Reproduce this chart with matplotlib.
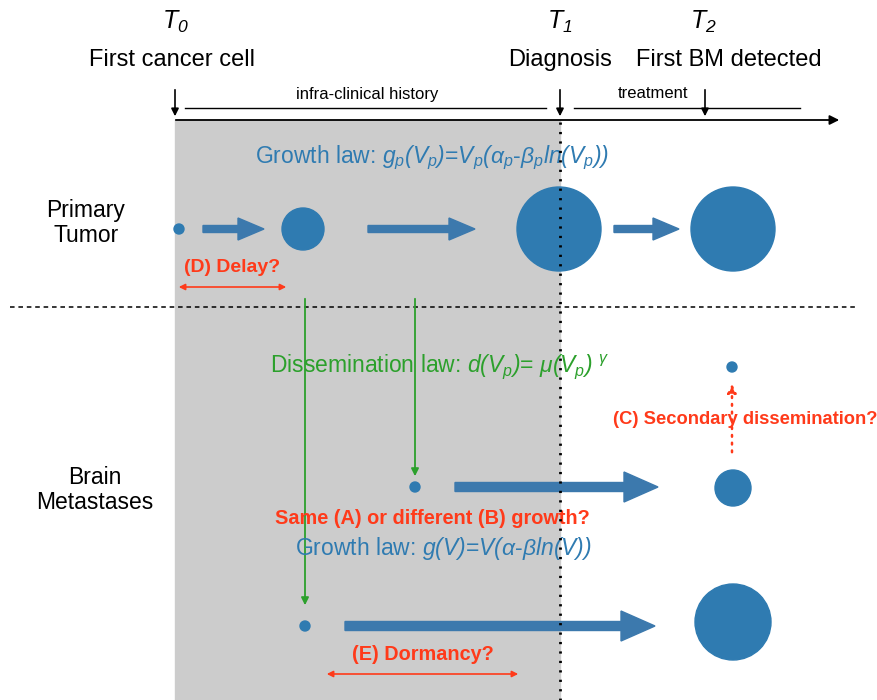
import matplotlib.pyplot as plt
from matplotlib.patches import Circle, Rectangle

plt.rcParams['font.family'] = ['Liberation Sans', 'DejaVu Sans']
plt.rcParams['mathtext.fontset'] = 'custom'
plt.rcParams['mathtext.rm'] = 'Liberation Sans:italic'
plt.rcParams['mathtext.it'] = 'Liberation Sans:italic'

# time points (pixel positions along the timeline)
time_labels = ['$T_0$', '$T_1$', '$T_2$']
time_names = ['First cancer cell', 'Diagnosis', 'First BM detected']
time_x = [175, 560, 705]

# tumors: (x, y, radius)
primary_x = [179, 303, 559, 733]
primary_r = [5, 21, 42, 42]
primary_y = 229
bm_x = [732, 415, 733, 305, 733]
bm_y = [367, 487, 488, 626, 622]
bm_r = [5, 5, 18, 5, 38]

# growth arrows: (x_start, x_end, y)
primary_arrows = [(203, 264), (368, 475), (614, 679)]
bm_arrows = [(455, 658, 487), (345, 655, 626)]

blue = '#2f7bb1'
arrow_blue = '#3c79ad'
red = '#ff3a1a'
green = '#2ca02c'

fig = plt.figure(figsize=(8.77, 7), dpi=100)
ax = fig.add_axes([0, 0, 1, 1])
ax.set_xlim(0, 877)
ax.set_ylim(700, 0)
ax.axis('off')

# infra-clinical period shading
ax.add_patch(Rectangle((175, 120), 385, 580, color='#cccccc', zorder=0))

# timeline
ax.annotate('', xy=(842, 120), xytext=(173, 120),
            arrowprops=dict(arrowstyle='-|>', color='black', lw=1.3, mutation_scale=14))
for x in time_x:
    ax.annotate('', xy=(x, 119), xytext=(x, 87),
                arrowprops=dict(arrowstyle='-|>', color='black', lw=1.2, mutation_scale=11))
ax.text(175, 22, time_labels[0], fontsize=18, ha='center', va='center')
ax.text(172, 60, time_names[0], fontsize=17, ha='center', va='center')
ax.text(560, 22, time_labels[1], fontsize=18, ha='center', va='center')
ax.text(560, 60, time_names[1], fontsize=17, ha='center', va='center')
ax.text(703, 22, time_labels[2], fontsize=18, ha='center', va='center')
ax.text(729, 60, time_names[2], fontsize=17, ha='center', va='center')

ax.plot([185, 546], [108, 108], color='black', lw=1)
ax.plot([574, 800], [108, 108], color='black', lw=1)
ax.text(367, 94, 'infra-clinical history', fontsize=12, ha='center', va='center')
ax.text(653, 94, 'treatment', fontsize=12, ha='center', va='center')

# separators
ax.plot([560, 560], [122, 700], color='black', lw=2, linestyle=(0, (0.8, 2.6)), zorder=5)
ax.plot([10, 855], [307, 307], color='black', lw=1.1, linestyle=(0, (3, 2.5)))

# row labels
ax.text(86, 223, 'Primary\nTumor', fontsize=16.5, ha='center', va='center', linespacing=1.15)
ax.text(95, 490, 'Brain\nMetastases', fontsize=16.5, ha='center', va='center', linespacing=1.15)

# primary tumor
ax.text(255, 158, 'Growth law: $g_p(V_p)$=$V_p(\\alpha_p$-$\\beta_p ln(V_p))$',
        fontsize=16.5, color=blue, ha='left', va='center')
for x, r in zip(primary_x, primary_r):
    ax.add_patch(Circle((x, primary_y), r, color=blue, zorder=3))
for x0, x1 in primary_arrows:
    ax.arrow(x0, primary_y, x1 - x0, 0, width=7, head_width=22, head_length=26,
             length_includes_head=True, color=arrow_blue, zorder=3)

# metastases
for x, y, r in zip(bm_x, bm_y, bm_r):
    ax.add_patch(Circle((x, y), r, color=blue, zorder=3))
for x0, x1, y in bm_arrows:
    ax.arrow(x0, y, x1 - x0, 0, width=9, head_width=30, head_length=34,
             length_includes_head=True, color=arrow_blue, zorder=3)

# dissemination
ax.annotate('', xy=(305, 608), xytext=(305, 296),
            arrowprops=dict(arrowstyle='-|>', color=green, lw=1.3, mutation_scale=11))
ax.annotate('', xy=(415, 479), xytext=(415, 296),
            arrowprops=dict(arrowstyle='-|>', color=green, lw=1.3, mutation_scale=11))
ax.text(270, 367, 'Dissemination law: $d(V_p)$= $\\mu(V_p)$ $^\\gamma$',
        fontsize=16.5, color=green, ha='left', va='center')

ax.text(443, 549, 'Growth law: $g(V)$=$V(\\alpha$-$\\beta ln(V))$',
        fontsize=16.5, color=blue, ha='center', va='center')

# open questions
ax.text(232, 267, '(D) Delay?', fontsize=14, color=red, fontweight='bold', ha='center', va='center')
ax.annotate('', xy=(176, 287), xytext=(289, 287),
            arrowprops=dict(arrowstyle='<|-|>', color=red, lw=1.2, mutation_scale=9))

ax.annotate('', xy=(732, 381), xytext=(732, 455),
            arrowprops=dict(arrowstyle='-|>', color=red, lw=1.8, linestyle=(0, (0.7, 2.4)),
                            mutation_scale=13))
ax.text(745, 420, '(C) Secondary dissemination?', fontsize=13.2, color=red,
        fontweight='bold', ha='center', va='center')

ax.text(432, 519, 'Same (A) or different (B) growth?', fontsize=14.3, color=red,
        fontweight='bold', ha='center', va='center')

ax.text(423, 655, '(E) Dormancy?', fontsize=14.3, color=red, fontweight='bold', ha='center', va='center')
ax.annotate('', xy=(324, 674), xytext=(521, 674),
            arrowprops=dict(arrowstyle='<|-|>', color=red, lw=1.2, mutation_scale=9))

fig.savefig('out.png', dpi=100)
